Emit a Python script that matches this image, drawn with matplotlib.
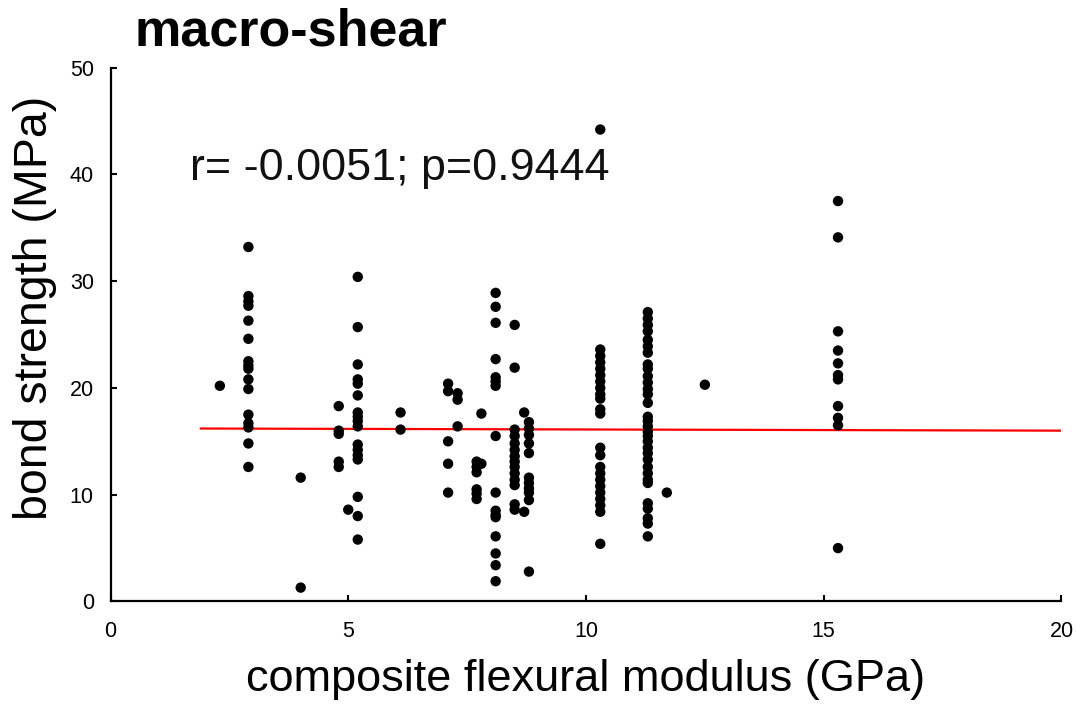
import numpy as np
import matplotlib
matplotlib.use("Agg")
import matplotlib.pyplot as plt

plt.rcParams["font.family"] = ["Liberation Sans", "DejaVu Sans"]

# Composite flexural modulus (GPa) for each group of measurements
modulus_groups = [2.3, 2.9, 4.0, 4.8, 5.0, 5.2, 6.1, 7.1, 7.3, 7.7, 7.8,
                  8.1, 8.5, 8.7, 8.8, 10.3, 11.3, 11.7, 12.5, 15.3]

# Macro-shear bond strength (MPa) measured at each modulus
strength_groups = [
    [20.2],
    [33.2, 28.6, 28.1, 27.7, 26.3, 24.6, 22.5, 22.1, 21.8, 20.8, 19.9,
     17.5, 16.7, 16.3, 14.8, 12.6],
    [11.6, 1.3],
    [18.3, 16.0, 15.7, 13.1, 12.6],
    [8.6],
    [30.4, 25.7, 22.2, 20.8, 20.4, 19.3, 17.7, 17.3, 16.9, 16.4, 14.7,
     14.2, 13.7, 13.3, 9.8, 8.0, 5.8],
    [17.7, 16.1],
    [20.4, 19.7, 15.0, 12.9, 10.2],
    [19.5, 18.9, 16.4],
    [13.1, 12.6, 12.1, 10.5, 10.1, 9.6],
    [17.6, 12.9],
    [28.9, 27.6, 26.1, 22.7, 21.0, 20.6, 20.2, 15.5, 10.2, 8.5, 8.1, 7.9,
     6.1, 4.5, 3.4, 1.9],
    [25.9, 21.9, 16.1, 15.5, 14.8, 14.2, 13.6, 13.1, 12.6, 12.0, 11.4,
     10.9, 9.1, 8.6],
    [17.7, 8.4],
    [16.8, 16.2, 15.6, 14.8, 13.9, 11.6, 11.1, 10.6, 10.2, 9.5, 2.8],
    [44.2, 23.6, 23.0, 22.4, 21.8, 21.2, 20.6, 20.0, 19.4, 19.0, 18.0,
     17.6, 14.4, 13.7, 12.6, 12.0, 11.4, 10.8, 10.2, 9.6, 9.0, 8.4, 5.4],
    [27.1, 26.5, 25.9, 25.3, 24.5, 23.9, 23.3, 22.2, 21.8, 21.1, 20.5,
     19.9, 19.4, 18.6, 17.3, 16.9, 16.4, 15.9, 15.5, 15.0, 14.4, 13.9,
     13.3, 12.6, 12.0, 11.4, 11.1, 9.2, 8.7, 7.8, 7.3, 6.1],
    [10.2],
    [20.3],
    [37.5, 34.1, 25.3, 23.5, 22.3, 21.2, 20.8, 18.3, 17.2, 16.5, 5.0],
]

# Fitted regression line
fit_intercept = 16.22
fit_slope = -0.011
fit_range = [1.9, 20.0]

x_ticks = [0, 5, 10, 15, 20]
y_ticks = [0, 10, 20, 30, 40, 50]

x = np.concatenate([[m] * len(s) for m, s in zip(modulus_groups, strength_groups)])
y = np.concatenate(strength_groups)

fig = plt.figure(figsize=(10.77, 7.04), dpi=100)
ax = fig.add_axes([0.1026, 0.1456, 0.883, 0.7584])

ax.scatter(x, y, s=56, color="black", edgecolors="none", zorder=3)

fx = np.array(fit_range)
ax.plot(fx, fit_intercept + fit_slope * fx, color="#ff0000", lw=1.6, zorder=2)

ax.set_xlim(0, 20)
ax.set_ylim(0, 50)
ax.set_xticks(x_ticks)
ax.set_yticks(y_ticks)
ax.tick_params(direction="in", length=4, width=1.5, labelsize=15.5, pad=12)
ax.tick_params(axis="x", pad=14)

for side in ("top", "right"):
    ax.spines[side].set_visible(False)
for side in ("left", "bottom"):
    ax.spines[side].set_linewidth(1.6)

ax.set_xlabel("composite flexural modulus (GPa)", fontsize=32.5, va="center")
ax.xaxis.set_label_coords(0.5, -0.147)
ax.set_ylabel("bond strength (MPa)", fontsize=33.5, va="center", ha="center")
ax.yaxis.set_label_coords(-0.079, 0.55)

ax.text(1.67, 39.5, "r= -0.0051; p=0.9444", fontsize=32.3, va="baseline",
        ha="left", color="#111111")

fig.text(0.1253, 0.936, "macro-shear", fontsize=37.5, fontweight="bold",
         va="baseline", ha="left")

fig.savefig("out.png", dpi=100)
